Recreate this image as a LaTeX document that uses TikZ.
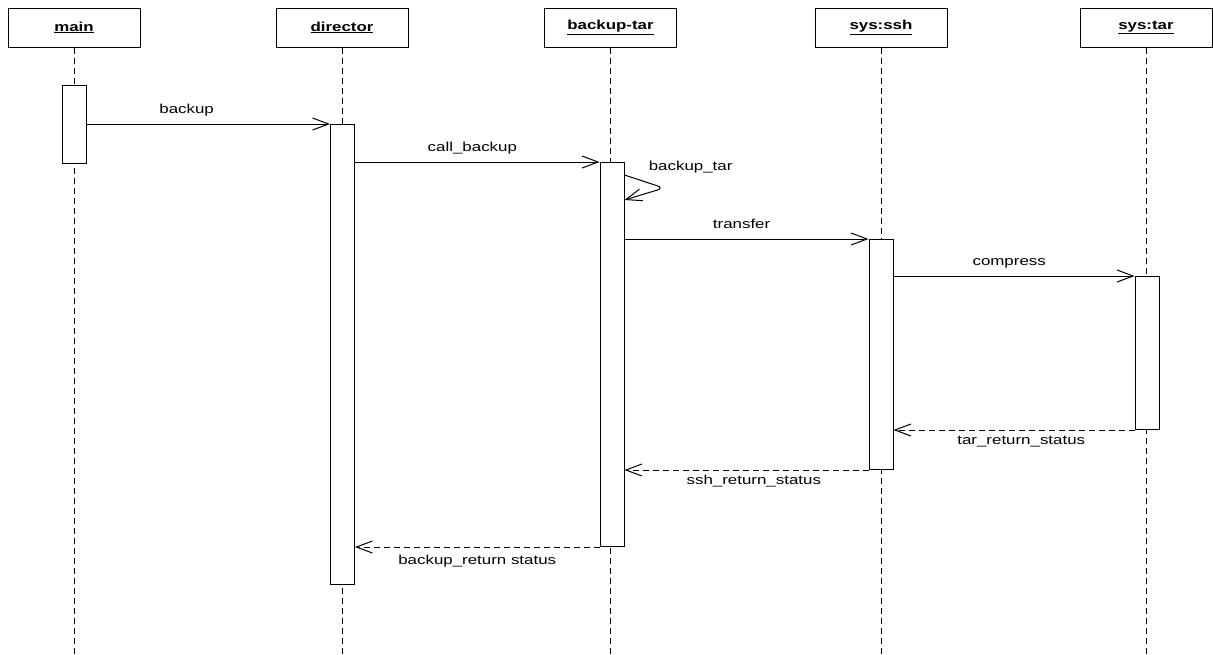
\documentclass[tikz,border=0pt]{standalone}
\usepackage{fontspec}
\setmainfont[FakeStretch=1.3]{Liberation Sans}
\usetikzlibrary{arrows.meta}
\begin{document}
\begin{tikzpicture}[x=1pt,y=-1pt,line width=1pt,font=\fontsize{13}{15}\selectfont,
  obj/.style={draw,minimum width=132pt,minimum height=39pt,inner sep=0pt,font=\fontsize{13}{15}\selectfont\bfseries},
  life/.style={line width=.9pt,dash pattern=on 6pt off 4pt},
  bar/.style={draw,fill=white,minimum width=24pt,inner sep=0pt,anchor=north},
  msg/.style={-{Straight Barb[length=16pt,width=12pt]}},
  ret/.style={msg,dash pattern=on 6pt off 4pt},
  toplbl/.style={anchor=base,yshift=11pt,pos=.48},
  botlbl/.style={anchor=base,yshift=-14pt,pos=.47}]
\useasboundingbox (0,0) rectangle (1213,654);
% objects and lifelines
\foreach \n/\x/\t in {main/74/main,dir/342/director,btar/610.5/backup-tar,ssh/881/sys:ssh,star/1146/sys:tar}{
  \node[obj] (\n) at (\x,27.5) {\underline{\t}};
  \draw[life] (\n.south) -- (\n.south |- 0,654);}
% activations
\foreach \n/\x/\y/\h in {main/74.5/85/78,dir/342.5/124/460,btar/612/162/384,ssh/881/239/230,star/1147/276/153}{
  \node[bar,minimum height=\h pt] (act\n) at (\x,\y) {};}
% calls
\draw[msg] (actmain.east |- actdir.north) -- node[toplbl,pos=.41] (lblbackup) {backup} (actdir.north west);
\draw[msg] (actdir.east |- actbtar.north) -- node[toplbl] (lblcall) {call\_backup} (actbtar.north west);
\coordinate (selfin) at (actbtar.east |- 0,175);
\coordinate (selfturn) at (664,188);
\coordinate (selfout) at (actbtar.east |- 0,200);
\draw[msg,rounded corners=7pt] (selfin) -- (selfturn) -- (selfout);
\node[anchor=base west] (lblself) at (645,170) {backup\_tar};
\draw[msg] (actbtar.east |- actssh.north) -- node[toplbl] (lbltransfer) {transfer} (actssh.north west);
\draw[msg] (actssh.east |- actstar.north) -- node[toplbl] (lblcompress) {compress} (actstar.north west);
% returns
\draw[ret] (actstar.south west) -- node[botlbl] (lbltarret) {tar\_return\_status} (actssh.east |- actstar.south);
\draw[ret] (actssh.south west) -- node[botlbl] (lblsshret) {ssh\_return\_status} (actbtar.east |- actssh.south);
\draw[ret] (actbtar.south west) -- node[botlbl,pos=.5,yshift=-3pt] (lblbackret) {backup\_return status} (actdir.east |- actbtar.south);
\end{tikzpicture}
\end{document}
